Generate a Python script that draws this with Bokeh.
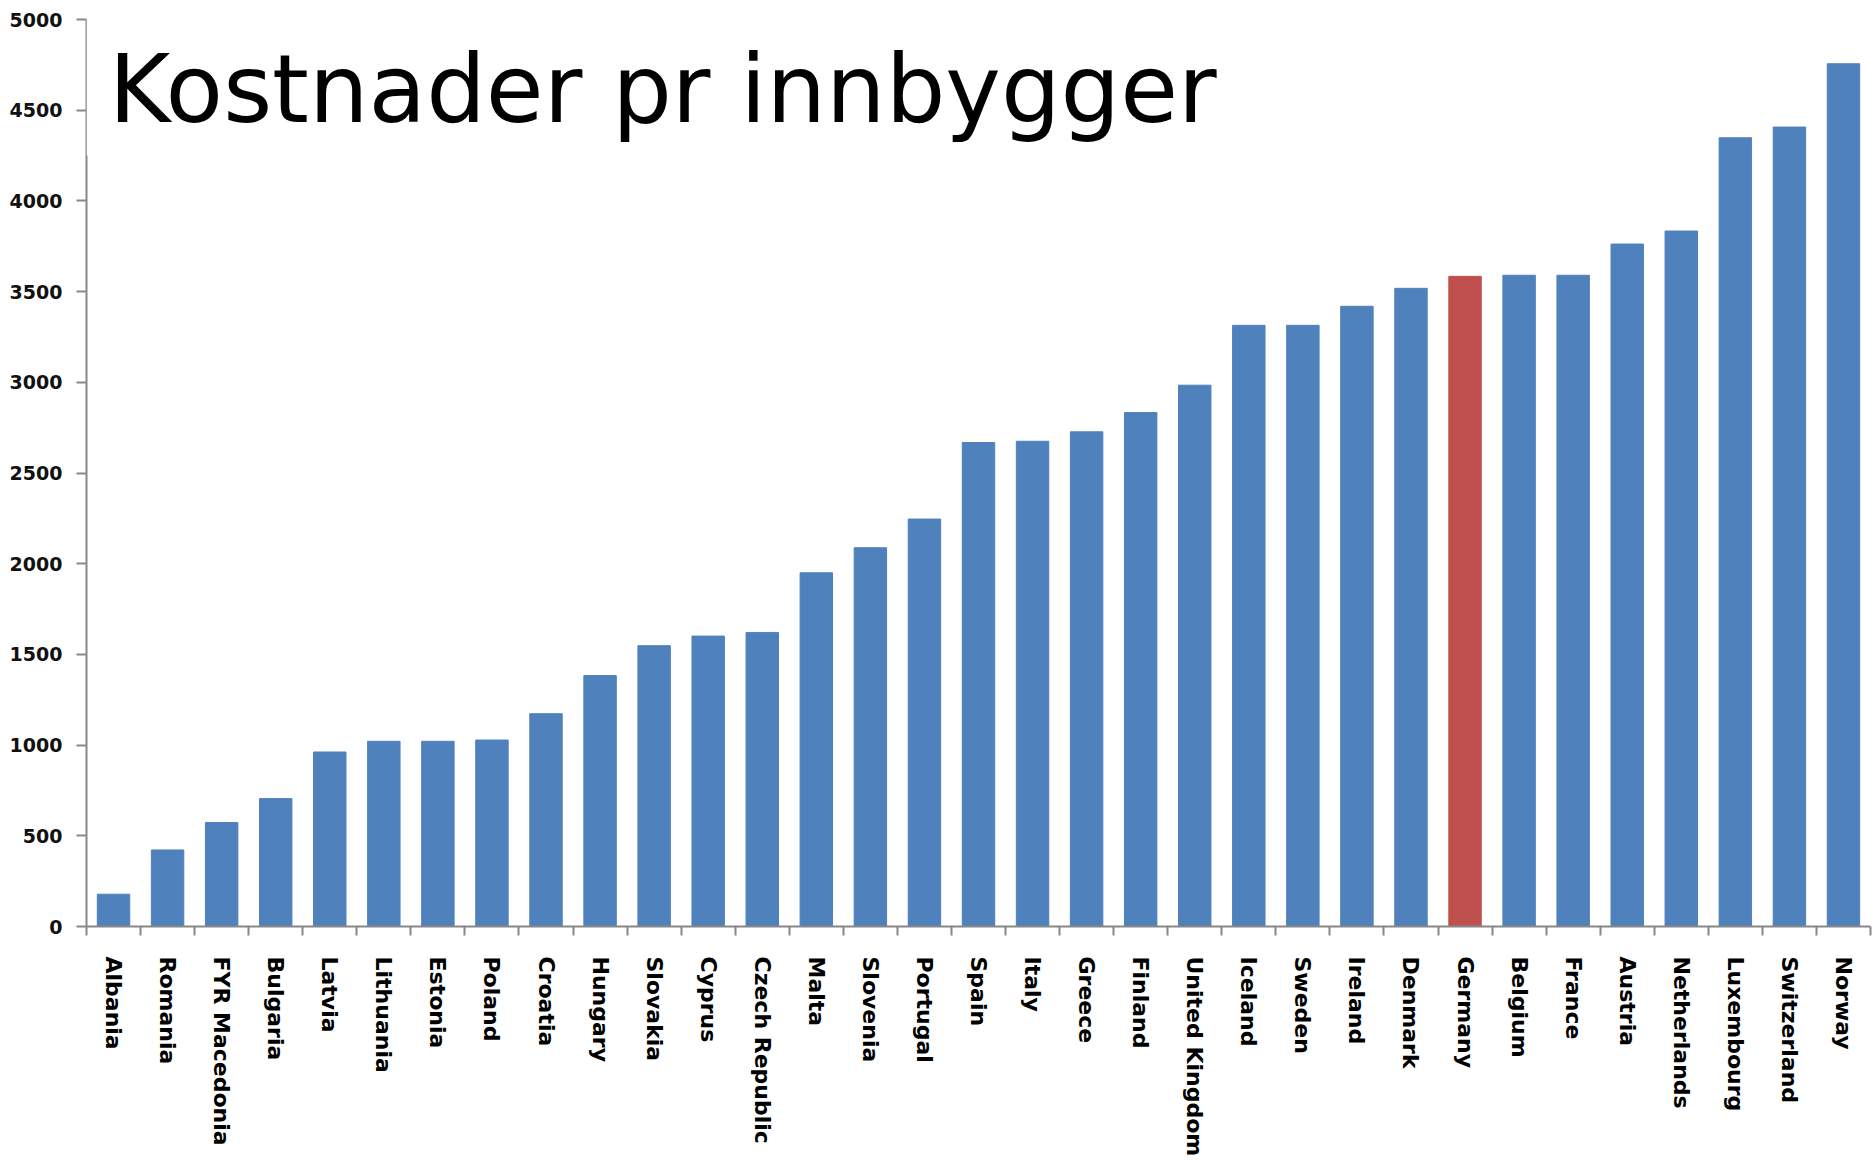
import math
from bokeh.plotting import figure
from bokeh.models import (ColumnDataSource, FixedTicker, LinearAxis, Range1d,
                          BoxAnnotation, Label)
from bokeh.embed import file_html
from bokeh.resources import INLINE

countries = ["Albania", "Romania", "FYR Macedonia", "Bulgaria", "Latvia", "Lithuania",
             "Estonia", "Poland", "Croatia", "Hungary", "Slovakia", "Cyprus",
             "Czech Republic", "Malta", "Slovenia", "Portugal", "Spain", "Italy",
             "Greece", "Finland", "United Kingdom", "Iceland", "Sweden", "Ireland",
             "Denmark", "Germany", "Belgium", "France", "Austria", "Netherlands",
             "Luxembourg", "Switzerland", "Norway"]
values = [178, 422, 573, 705, 962, 1021, 1021, 1028, 1173, 1383, 1548, 1601,
          1621, 1950, 2088, 2246, 2668, 2675, 2727, 2833, 2984, 3314, 3314, 3419,
          3518, 3584, 3590, 3590, 3762, 3834, 4348, 4407, 4756]
highlight = "Germany"
y_ticks = [0, 500, 1000, 1500, 2000, 2500, 3000, 3500, 4000, 4500, 5000]
title_text = "Kostnader pr innbygger"

BLUE = "#4F81BD"
RED = "#C0504D"
GRAY = "#878787"

n = len(countries)
xs = list(range(n))
colors = [RED if c == highlight else BLUE for c in countries]
src = ColumnDataSource(dict(x=xs, top=values, color=colors, name=countries))

p = figure(width=1872, height=1162, output_backend="svg", toolbar_location=None,
           x_range=Range1d(-0.5, n - 0.5), y_range=Range1d(0, 5000),
           x_axis_type=None, y_axis_type=None,
           min_border_left=86, min_border_top=19, min_border_right=2,
           min_border_bottom=236)
p.outline_line_color = None
p.background_fill_color = "white"

p.vbar(x="x", top="top", width=0.6, fill_color="color", line_color="color", source=src)

# y axis
yax = LinearAxis(ticker=FixedTicker(ticks=y_ticks))
yax.axis_line_color = GRAY
yax.axis_line_width = 2
yax.major_tick_line_color = GRAY
yax.major_tick_line_width = 2
yax.major_tick_out = 10
yax.major_tick_in = 0
yax.minor_tick_line_color = None
yax.major_label_text_font = "DejaVu Sans"
yax.major_label_text_font_style = "bold"
yax.major_label_text_font_size = "19px"
yax.major_label_text_color = "#111111"
yax.major_label_standoff = 14
p.add_layout(yax, "left")

# x axis: labels at centers, ticks at boundaries
xax = LinearAxis(ticker=FixedTicker(ticks=xs, minor_ticks=[i - 0.5 for i in range(n + 1)]))
xax.major_label_overrides = {i: c for i, c in enumerate(countries)}
xax.major_label_orientation = -math.pi / 2
xax.axis_line_color = GRAY
xax.axis_line_width = 2
xax.major_tick_line_color = None
xax.major_tick_out = 0
xax.major_tick_in = 0
xax.minor_tick_line_color = GRAY
xax.minor_tick_line_width = 2
xax.minor_tick_out = 9
xax.minor_tick_in = 0
xax.major_label_text_font = "DejaVu Sans"
xax.major_label_text_font_style = "bold"
xax.major_label_text_font_size = "22px"
xax.major_label_text_color = "#000000"
xax.major_label_standoff = 21
p.add_layout(xax, "below")

p.ygrid.ticker = FixedTicker(ticks=y_ticks)
p.ygrid.grid_line_color = GRAY
p.ygrid.grid_line_width = 2
p.xgrid.grid_line_color = None

# white area behind the title, hiding upper grid lines
p.add_layout(BoxAnnotation(left=-0.5, right=22, bottom=4250, top=5100,
                           fill_color="white", fill_alpha=1.0, line_color=None))
p.add_layout(Label(x=-0.09, y=4614, text=title_text, text_font="DejaVu Sans",
                   text_font_size="94px", text_color="black",
                   text_baseline="alphabetic", text_align="left"))

open("out.html", "w").write(file_html(p, INLINE))
